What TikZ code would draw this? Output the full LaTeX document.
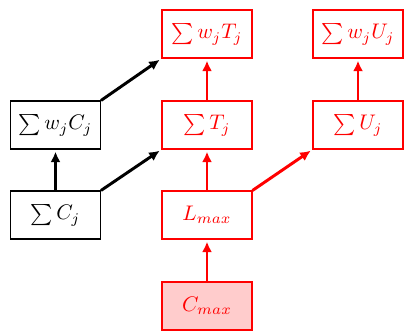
\documentclass[tikz,border=0pt]{standalone}
\usetikzlibrary{arrows.meta}
\begin{document}
\begin{tikzpicture}[
  probbox/.style={draw, line width=0.5pt, minimum width=1.5cm, minimum height=0.8cm, inner sep=0pt},
  redbox/.style={probbox, draw=red, text=red},
  arr/.style={line width=1.4pt, -{Latex[length=5pt,width=4.8pt]}, shorten >=1pt},
  redarr/.style={arr, red}
]
\useasboundingbox (0,0) rectangle (6.8,-5.583);
\node[redbox] (wT) at (3.45,-0.567) {$\sum w_jT_j$};
\node[redbox] (wU) at (5.967,-0.567) {$\sum w_jU_j$};
\node[probbox] (wC) at (0.925,-2.083) {$\sum w_jC_j$};
\node[redbox] (T) at (3.45,-2.083) {$\sum T_j$};
\node[redbox] (U) at (5.967,-2.083) {$\sum U_j$};
\node[probbox] (C) at (0.925,-3.583) {$\sum C_j$};
\node[redbox] (L) at (3.45,-3.583) {$L_{max}$};
\node[redbox, fill=red!20] (Cm) at (3.45,-5.1) {$C_{max}$};
\draw[arr] (wC.north east) -- (wT.south west);
\draw[arr] (C.north east) -- (T.south west);
\draw[arr] (C) -- (wC);
\draw[redarr] (T) -- (wT);
\draw[redarr] (U) -- (wU);
\draw[redarr] (L) -- (T);
\draw[redarr] (Cm) -- (L);
\draw[redarr] (L.north east) -- (U.south west);
\end{tikzpicture}
\end{document}
